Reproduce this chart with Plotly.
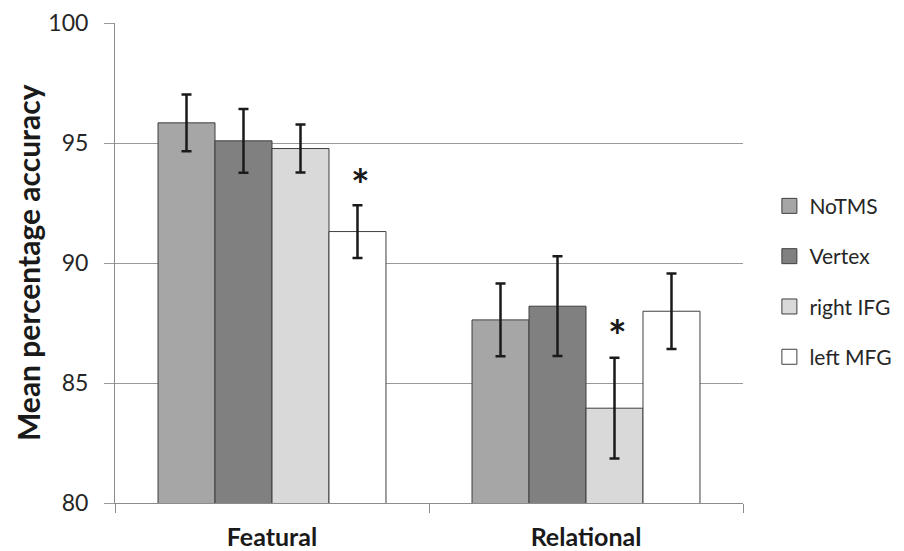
import plotly.graph_objects as go

categories = ["Featural", "Relational"]
series_names = ["NoTMS", "Vertex", "right IFG", "left MFG"]
means = {
    "NoTMS": [95.84, 87.63],
    "Vertex": [95.09, 88.20],
    "right IFG": [94.77, 83.95],
    "left MFG": [91.31, 87.99],
}
errors = {
    "NoTMS": [1.18, 1.52],
    "Vertex": [1.33, 2.08],
    "right IFG": [1.00, 2.10],
    "left MFG": [1.10, 1.57],
}
colors = {
    "NoTMS": "#a6a6a6",
    "Vertex": "#808080",
    "right IFG": "#d9d9d9",
    "left MFG": "#ffffff",
}
# significance markers: (category, series, y position)
stars = [("Featural", "left MFG", 93.3), ("Relational", "right IFG", 87.0)]
y_ticks = [80, 85, 90, 95, 100]

FONT = "Lato, 'Open Sans', sans-serif"
EDGE = "#3f3f3f"

fig = go.Figure()
for name in series_names:
    fig.add_trace(go.Bar(
        name=name,
        x=categories,
        y=means[name],
        marker=dict(color=colors[name], line=dict(color=EDGE, width=1)),
        error_y=dict(type="data", array=errors[name], visible=True,
                     color="#1a1a1a", thickness=2.5, width=5),
        showlegend=False,
    ))
    # legend entry with a larger square swatch
    fig.add_trace(go.Scatter(
        name=name, x=[None], y=[None], mode="markers",
        marker=dict(symbol="square", size=15, color=colors[name],
                    line=dict(color=EDGE, width=1)),
        legendgroup=name, showlegend=True,
    ))

W, H = 896, 543
left, right, top, bottom = 107, 161, 15, 48
plot_w = W - left - right
cat_w = plot_w / len(categories)
bargap = 0.274
bar_w = cat_w * (1 - bargap) / len(series_names)

for cat, ser, yv in stars:
    k = series_names.index(ser)
    shift = (k - (len(series_names) - 1) / 2) * bar_w
    fig.add_annotation(x=cat, y=yv, xref="x", yref="y", text="<b>*</b>",
                       showarrow=False, xshift=shift + 3,
                       font=dict(size=44, color="#1a1a1a", family=FONT))

fig.add_annotation(
    xref="paper", yref="paper", x=-0.1385, y=0.5, xanchor="center", yanchor="middle",
    text="<b>Mean percentage accuracy</b>", textangle=-90, showarrow=False,
    font=dict(size=30, family=FONT, color="#1a1a1a"),
)

fig.update_layout(
    width=W, height=H,
    margin=dict(l=left, r=right, t=top, b=bottom, autoexpand=False),
    paper_bgcolor="white", plot_bgcolor="white",
    barmode="group", bargap=bargap, bargroupgap=0,
    font=dict(family=FONT, color="#262626"),
    legend=dict(x=1.042, y=0.461, xanchor="left", yanchor="middle",
                font=dict(size=21, color="#262626", family=FONT),
                tracegroupgap=20, itemwidth=30, itemsizing="trace",
                bgcolor="rgba(0,0,0,0)"),
    xaxis=dict(
        showgrid=False, showline=True, linecolor="#8c8c8c", linewidth=1,
        ticks="outside", tickson="boundaries", ticklen=9, tickcolor="#8c8c8c",
        ticklabelstandoff=12,
        tickfont=dict(size=25, family=FONT, color="#1a1a1a"),
        tickprefix="<b>", ticksuffix="</b>", automargin=False,
    ),
    yaxis=dict(
        range=[80, 100], tickvals=y_ticks, showgrid=True, gridcolor="#9a9a9a",
        gridwidth=1, showline=True, linecolor="#8c8c8c", linewidth=1,
        ticks="outside", ticklen=10, tickcolor="#9a9a9a", ticklabelstandoff=11,
        tickfont=dict(size=23, family=FONT, color="#262626"),
        zeroline=False, automargin=False,
    ),
)

fig.write_html("out.html")
